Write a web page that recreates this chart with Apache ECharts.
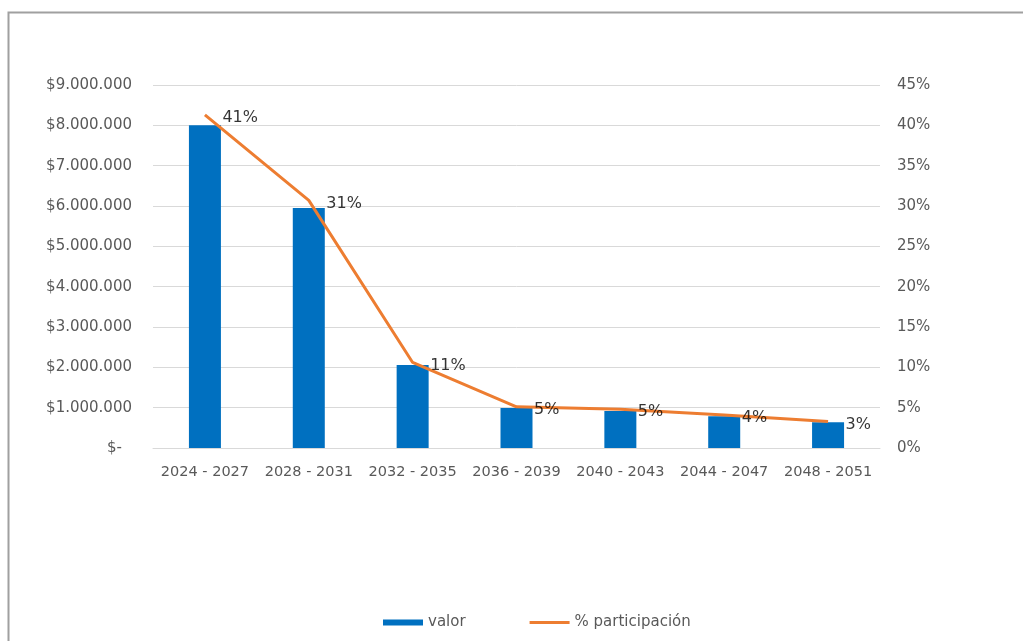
<!DOCTYPE html>
<html>
<head>
<meta charset="utf-8">
<script src="https://cdn.jsdelivr.net/npm/echarts@6/dist/echarts.min.js"></script>
<style>
html,body{margin:0;padding:0;background:#fff;}
#chart{width:1023px;height:641px;}
</style>
</head>
<body>
<div id="chart"></div>
<script>
// Data
const categories = ['2024 - 2027','2028 - 2031','2032 - 2035','2036 - 2039','2040 - 2043','2044 - 2047','2048 - 2051'];
const valor = [8000000, 5950000, 2060000, 990000, 920000, 790000, 640000];
const participacion = [41.3, 30.7, 10.6, 5.1, 4.8, 4.1, 3.3];
const leftTicks = { min: 0, max: 9000000, interval: 1000000 };
const rightTicks = { min: 0, max: 45, interval: 5 };

const FONT = 'DejaVu Sans';
const AXIS_COLOR = '#595959';

function money(v) {
  if (v === 0) return '{z|$-}';
  return '$' + String(Math.round(v)).replace(/\B(?=(\d{3})+(?!\d))/g, '.');
}

const chart = echarts.init(document.getElementById('chart'), null, { renderer: 'canvas' });
chart.setOption({
  backgroundColor: '#ffffff',
  animation: false,
  textStyle: { fontFamily: FONT },
  graphic: [{
    type: 'rect',
    shape: { x: 8.5, y: 12.5, width: 1100, height: 700 },
    style: { fill: 'none', stroke: '#a0a0a0', lineWidth: 2 },
    silent: true,
    z: 0
  }],
  grid: { left: 153, right: 143, top: 85, bottom: 193 },
  legend: {
    left: 378,
    top: 610,
    itemGap: 64,
    textStyle: { fontFamily: FONT, fontSize: 15, color: AXIS_COLOR },
    data: [
      { name: 'valor', icon: 'rect', itemStyle: { color: '#0070C0' } },
      { name: '% participación', icon: 'path://M0,0h40v0.01h-40z M0,1.6h40v2.8h-40z M0,5.99h40v0.01h-40z', itemStyle: { color: '#ED7D31' } }
    ],
    itemWidth: 40,
    itemHeight: 6
  },
  xAxis: {
    type: 'category',
    data: categories,
    axisTick: { show: false },
    axisLine: { lineStyle: { color: '#d9d9d9', width: 1 } },
    axisLabel: { fontFamily: FONT, fontSize: 14.5, color: AXIS_COLOR, margin: 17, interval: 0 }
  },
  yAxis: [
    {
      type: 'value',
      min: leftTicks.min, max: leftTicks.max, interval: leftTicks.interval,
      axisLine: { show: false },
      axisTick: { show: false },
      splitLine: { lineStyle: { color: '#d9d9d9', width: 1 } },
      axisLabel: {
        fontFamily: FONT, fontSize: 15, color: AXIS_COLOR, margin: 21,
        formatter: money,
        rich: { z: { fontFamily: FONT, fontSize: 15, color: AXIS_COLOR, padding: [0, 10, 0, 0] } }
      }
    },
    {
      type: 'value',
      min: rightTicks.min, max: rightTicks.max, interval: rightTicks.interval,
      axisLine: { show: false },
      axisTick: { show: false },
      splitLine: { show: false },
      axisLabel: {
        fontFamily: FONT, fontSize: 15, color: AXIS_COLOR, margin: 17,
        formatter: v => Math.round(v) + '%'
      }
    }
  ],
  series: [
    {
      name: 'valor',
      type: 'bar',
      data: valor,
      barWidth: 32,
      itemStyle: { color: '#0070C0' },
      yAxisIndex: 0,
      z: 2
    },
    {
      name: '% participación',
      type: 'line',
      data: participacion,
      yAxisIndex: 1,
      symbol: 'none',
      lineStyle: { color: '#ED7D31', width: 3 },
      itemStyle: { color: '#ED7D31' },
      z: 3
    },
    {
      name: 'etiquetas',
      type: 'scatter',
      data: participacion,
      yAxisIndex: 1,
      symbolSize: 1,
      itemStyle: { color: 'rgba(0,0,0,0)' },
      label: {
        show: true,
        position: 'right',
        distance: 17,
        offset: [0, 3],
        fontFamily: FONT,
        fontSize: 16,
        color: '#000000',
        formatter: p => Math.round(p.value) + '%'
      },
      silent: true,
      z: 4
    }
  ]
});
</script>
</body>
</html>
